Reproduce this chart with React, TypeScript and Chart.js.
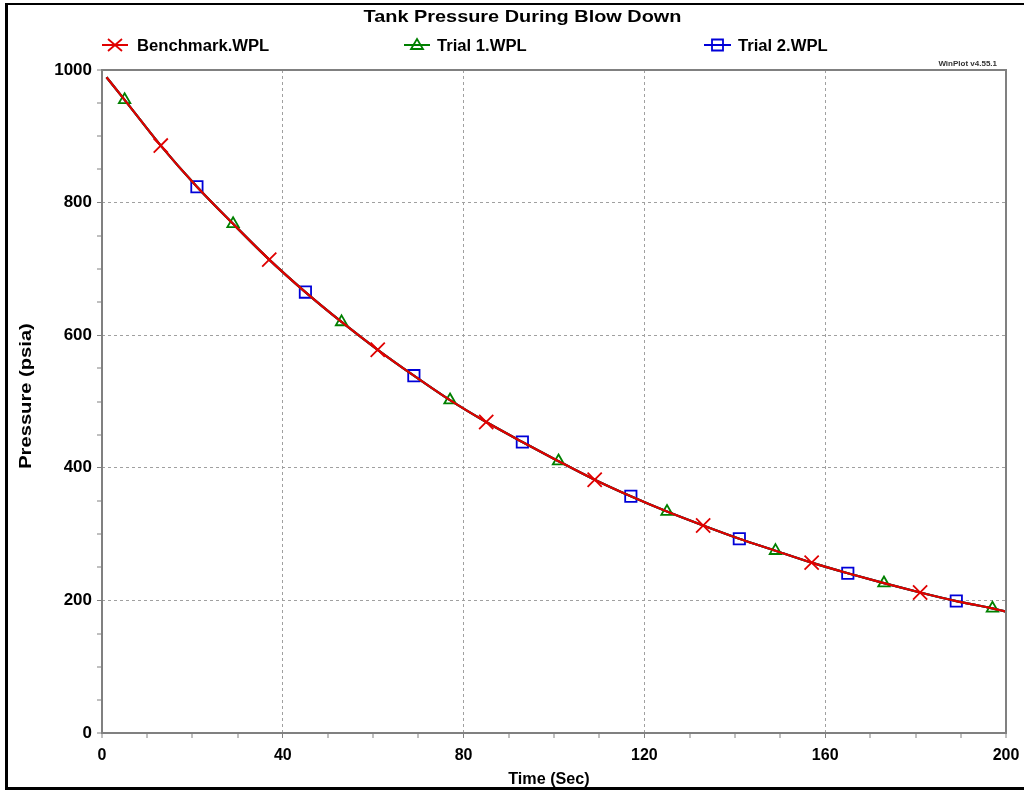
import React, { useEffect, useRef } from 'react';
import { Chart, registerables } from 'chart.js';

Chart.register(...registerables);

const chartTitle = 'Tank Pressure During Blow Down';
const xAxisTitle = 'Time (Sec)';
const yAxisTitle = 'Pressure (psia)';
const versionLabel = 'WinPlot v4.55.1';
const seriesNames = ['Benchmark.WPL', 'Trial 1.WPL', 'Trial 2.WPL'];
const seriesColors = ['#e00000', '#008000', '#0000d8'];

const timeSec = [1, 5, 13, 21, 29, 37, 45, 53, 61, 69, 77, 85, 93, 101, 109, 117, 125, 133, 141, 149, 157, 165, 173, 181, 189, 197, 200];
const benchmarkPsia = [989, 955, 886, 824, 768, 714, 665, 620, 578, 539, 502, 469, 439, 410, 382, 357, 334, 313, 293, 275, 257, 241, 226, 212, 199, 188, 183];
const trial1Psia = [989, 955, 886, 824, 768, 714, 665, 620, 578, 539, 502, 469, 439, 410, 382, 357, 334, 313, 293, 275, 257, 241, 226, 212, 199, 188, 183];
const trial2Psia = [989, 955, 886, 824, 768, 714, 665, 620, 578, 539, 502, 469, 439, 410, 382, 357, 334, 313, 293, 275, 257, 241, 226, 212, 199, 188, 183];

const benchmarkMarkerTimes = [13, 37, 61, 85, 109, 133, 157, 181];
const trial1MarkerTimes = [5, 29, 53, 77, 101, 125, 149, 173, 197];
const trial2MarkerTimes = [21, 45, 69, 93, 117, 141, 165, 189];

const xTickLabels = [0, 40, 80, 120, 160, 200];
const yTickLabels = [0, 200, 400, 600, 800, 1000];

const FONT = "'Liberation Sans', Arial, sans-serif";

function drawText(ctx: CanvasRenderingContext2D, text: string, x: number, y: number, size: number, align: CanvasTextAlign, sx = 1, rot = 0, color = '#000') {
  ctx.save();
  ctx.translate(x, y);
  if (rot) ctx.rotate(rot);
  ctx.scale(sx, 1);
  ctx.font = `bold ${size}px ${FONT}`;
  ctx.fillStyle = color;
  ctx.textAlign = align;
  ctx.textBaseline = 'alphabetic';
  ctx.fillText(text, 0, 0);
  ctx.restore();
}

function drawMarker(ctx: CanvasRenderingContext2D, kind: number, x: number, y: number, color: string) {
  ctx.save();
  ctx.strokeStyle = color;
  ctx.lineWidth = 1.8;
  ctx.beginPath();
  if (kind === 0) {
    ctx.moveTo(x - 7, y - 6); ctx.lineTo(x + 7, y + 6);
    ctx.moveTo(x - 7, y + 6); ctx.lineTo(x + 7, y - 6);
  } else if (kind === 1) {
    ctx.moveTo(x, y - 6); ctx.lineTo(x + 6, y + 4); ctx.lineTo(x - 6, y + 4); ctx.closePath();
  } else {
    ctx.rect(x - 5.5, y - 5.5, 11, 11);
  }
  ctx.stroke();
  ctx.restore();
}

const decorPlugin = {
  id: 'decor',
  beforeDraw(chart: any) {
    const ctx = chart.ctx as CanvasRenderingContext2D;
    ctx.save();
    ctx.fillStyle = '#fff';
    ctx.fillRect(0, 0, chart.width, chart.height);
    ctx.restore();
  },
  afterDraw(chart: any) {
    const ctx = chart.ctx as CanvasRenderingContext2D;
    const a = chart.chartArea;
    ctx.save();
    ctx.strokeStyle = '#808080';
    ctx.lineWidth = 2;
    ctx.strokeRect(a.left, a.top, a.right - a.left, a.bottom - a.top);
    ctx.fillStyle = '#000';
    ctx.fillRect(5, 3, 1019, 2);
    ctx.fillRect(5, 3, 3, 787);
    ctx.fillRect(5, 787, 1019, 3);
    ctx.restore();

    drawText(ctx, chartTitle, 522.5, 21.5, 17, 'center', 1.17);
    drawText(ctx, versionLabel, 997, 65.5, 8, 'right', 1, 0, '#333');
    drawText(ctx, xAxisTitle, 549, 784, 16, 'center', 1.01);
    drawText(ctx, yAxisTitle, 30.5, 396, 16, 'center', 1.26, -Math.PI / 2);

    const legend = [
      { x1: 102, x2: 128, tx: 137 },
      { x1: 404, x2: 430, tx: 437 },
      { x1: 704, x2: 731, tx: 738 },
    ];
    legend.forEach((l, i) => {
      ctx.save();
      ctx.strokeStyle = seriesColors[i];
      ctx.lineWidth = 2;
      ctx.beginPath();
      ctx.moveTo(l.x1, 45);
      ctx.lineTo(l.x2, 45);
      ctx.stroke();
      ctx.restore();
      drawMarker(ctx, i, (l.x1 + l.x2) / 2, 45, seriesColors[i]);
      drawText(ctx, seriesNames[i], l.tx, 50.5, 16, 'left', 1.04);
    });
  },
};

function makeDataset(label: string, values: number[], markers: number[], color: string, style: string, radius: number) {
  return {
    label,
    data: timeSec.map((t, i) => ({ x: t, y: values[i] })),
    borderColor: color,
    borderWidth: 2.2,
    backgroundColor: color,
    pointStyle: style,
    pointRadius: (c: any) => (markers.includes(timeSec[c.dataIndex]) ? radius : 0),
    pointBorderColor: color,
    pointBackgroundColor: 'rgba(0,0,0,0)',
    pointBorderWidth: 1.8,
    cubicInterpolationMode: 'monotone',
    fill: false,
  };
}

export default function App() {
  const ref = useRef<HTMLCanvasElement>(null);
  useEffect(() => {
    if (!ref.current) return;
    const chart = new Chart(ref.current, {
      type: 'line',
      data: {
        datasets: [
          makeDataset(seriesNames[0], benchmarkPsia, benchmarkMarkerTimes, seriesColors[0], 'crossRot', 10),
          makeDataset(seriesNames[1], trial1Psia, trial1MarkerTimes, seriesColors[1], 'triangle', 6.6),
          makeDataset(seriesNames[2], trial2Psia, trial2MarkerTimes, seriesColors[2], 'rect', 8),
        ] as any,
      },
      options: {
        responsive: false,
        animation: false,
        devicePixelRatio: 1,
        layout: { padding: { top: 70, right: 18, bottom: 0, left: 0 } },
        plugins: { legend: { display: false }, title: { display: false }, tooltip: { enabled: false } },
        events: [],
        scales: {
          x: {
            type: 'linear',
            min: 0,
            max: 200,
            afterFit: (s: any) => { s.height = 59; s.paddingRight = 0; s.paddingLeft = 0; },
            border: { display: false, dash: [3, 3] },
            grid: {
              color: '#a0a0a0',
              lineWidth: (c: any) => {
                const v = c.tick ? c.tick.value : 0;
                return xTickLabels.includes(v) && v > 0 && v < 200 ? 1 : 0;
              },
              tickLength: 5,
              tickWidth: 1,
              tickColor: '#808080',
              drawTicks: true,
            },
            ticks: {
              stepSize: 10,
              autoSkip: false,
              maxRotation: 0,
              padding: 8,
              color: '#000',
              font: { family: FONT, size: 16, weight: 'bold' },
              callback: (v: any) => (xTickLabels.includes(Number(v)) ? String(v) : ''),
            },
          },
          y: {
            type: 'linear',
            min: 0,
            max: 1000,
            afterFit: (s: any) => { s.width = 102; s.paddingTop = 0; s.paddingBottom = 0; },
            border: { display: false, dash: [3, 3] },
            grid: {
              color: '#a0a0a0',
              lineWidth: (c: any) => {
                const v = c.tick ? c.tick.value : 0;
                return yTickLabels.includes(v) && v > 0 && v < 1000 ? 1 : 0;
              },
              tickLength: 5,
              tickWidth: 1,
              tickColor: '#808080',
              drawTicks: true,
            },
            ticks: {
              stepSize: 50,
              autoSkip: false,
              padding: 5,
              color: '#000',
              font: { family: FONT, size: 17, weight: 'bold' },
              callback: (v: any) => (yTickLabels.includes(Number(v)) ? String(v) : ''),
            },
          },
        },
      } as any,
      plugins: [decorPlugin],
    });
    return () => chart.destroy();
  }, []);
  return (
    <div style={{ position: 'absolute', left: 0, top: 0, width: 1024, height: 792 }}>
      <canvas ref={ref} width={1024} height={792} style={{ display: 'block' }} />
    </div>
  );
}
